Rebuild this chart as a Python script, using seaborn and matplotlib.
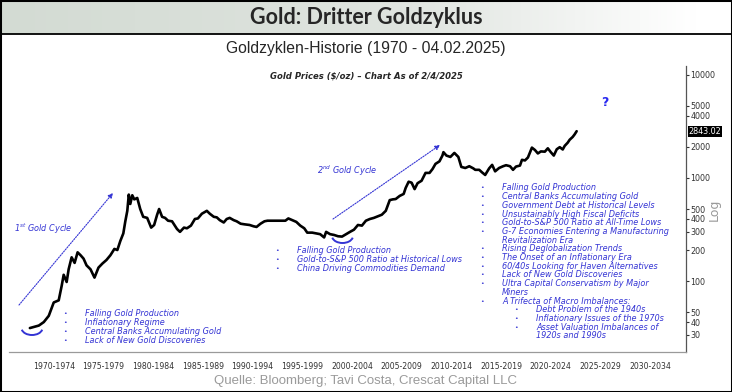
import numpy as np
import matplotlib.pyplot as plt
import matplotlib.patches as mpatches
from matplotlib.colors import LinearSegmentedColormap
from matplotlib.ticker import NullLocator
import matplotlib.transforms as mtransforms
import seaborn as sns

# Gold price in USD/oz (roughly quarterly)
years = [1970.1, 1971.0, 1971.5, 1972.0, 1972.5, 1973.0, 1973.3, 1973.5, 1973.8, 1974.0, 1974.3,
         1974.6, 1974.9, 1975.2, 1975.5, 1975.8, 1976.2, 1976.6, 1977.0, 1977.4, 1977.8,
         1978.2, 1978.6, 1978.9, 1979.2, 1979.5, 1979.7, 1979.9, 1980.05, 1980.2, 1980.4,
         1980.6, 1980.9, 1981.2, 1981.5, 1981.9, 1982.3, 1982.6, 1982.9, 1983.1, 1983.4,
         1983.7, 1984.0, 1984.4, 1984.9, 1985.2, 1985.6, 1985.9, 1986.3, 1986.7, 1987.0,
         1987.4, 1987.9, 1988.2, 1988.6, 1988.9, 1989.2, 1989.6, 1989.9, 1990.2, 1990.6,
         1990.9, 1991.3, 1991.7, 1992.2, 1992.6, 1992.9, 1993.3, 1993.7, 1994.0, 1994.5,
         1994.9, 1995.3, 1995.8, 1996.1, 1996.5, 1996.9, 1997.3, 1997.7, 1998.0, 1998.5,
         1998.9, 1999.3, 1999.7, 1999.9, 2000.3, 2000.7, 2001.1, 2001.5, 2001.9, 2002.3,
         2002.7, 2003.1, 2003.5, 2003.9, 2004.3, 2004.7, 2005.1, 2005.5, 2005.9, 2006.3,
         2006.6, 2006.9, 2007.3, 2007.7, 2007.9, 2008.2, 2008.5, 2008.8, 2009.1, 2009.5,
         2009.9, 2010.3, 2010.6, 2010.9, 2011.3, 2011.6, 2011.7, 2012.0, 2012.4, 2012.8,
         2013.2, 2013.5, 2013.9, 2014.3, 2014.7, 2014.9, 2015.3, 2015.6, 2015.9, 2016.3,
         2016.6, 2016.9, 2017.3, 2017.7, 2018.0, 2018.4, 2018.7, 2019.0, 2019.4, 2019.6,
         2019.9, 2020.2, 2020.6, 2020.9, 2021.2, 2021.5, 2021.9, 2022.2, 2022.5, 2022.8,
         2023.1, 2023.4, 2023.7, 2023.9, 2024.2, 2024.4, 2024.7, 2024.9, 2025.1]
prices = [35, 37, 40, 46, 62, 65, 90, 115, 98, 130, 170,
          150, 190, 178, 165, 142, 130, 108, 135, 148, 160,
          178, 205, 200, 245, 290, 380, 480, 690, 560, 680,
          620, 640, 500, 420, 410, 330, 350, 440, 500, 420,
          410, 385, 380, 320, 300, 330, 325, 345, 400, 405,
          450, 480, 450, 420, 415, 390, 370, 400, 410, 390,
          380, 360, 355, 350, 340, 335, 360, 380, 385, 385,
          385, 385, 385, 405, 390, 375, 345, 325, 295, 295,
          290, 285, 265, 300, 285, 280, 272, 270, 285, 300,
          315, 350, 345, 385, 400, 410, 425, 440, 480, 610,
          620, 625, 670, 700, 800, 920, 900, 780, 890, 940,
          1120, 1120, 1220, 1370, 1450, 1650, 1780, 1650, 1600, 1750,
          1600, 1280, 1250, 1300, 1240, 1200, 1200, 1130, 1070, 1240,
          1340, 1160, 1250, 1300, 1330, 1300, 1200, 1290, 1320, 1500,
          1480, 1580, 1970, 1870, 1730, 1810, 1800, 1940, 1780, 1650,
          1900, 1990, 1890, 2050, 2200, 2350, 2500, 2650, 2843]
last_price = 2843.02

periods = ["1970-1974", "1975-1979", "1980-1984", "1985-1989", "1990-1994",
           "1995-1999", "2000-2004", "2005-2009", "2010-2014", "2015-2019",
           "2020-2024", "2025-2029", "2030-2034"]
period_starts = list(range(1970, 2040, 5))
ytick_vals = [30, 40, 50, 100, 200, 300, 400, 500, 1000, 2000, 4000, 5000, 10000]

cycle1_points = ["Falling Gold Production", "Inflationary Regime",
                 "Central Banks Accumulating Gold", "Lack of New Gold Discoveries"]
cycle2_points = ["Falling Gold Production", "Gold-to-S&P 500 Ratio at Historical Lows",
                 "China Driving Commodities Demand"]
# (indent level, text lines)
cycle3_points = [
    (0, ["Falling Gold Production"]),
    (0, ["Central Banks Accumulating Gold"]),
    (0, ["Government Debt at Historical Levels"]),
    (0, ["Unsustainably High Fiscal Deficits"]),
    (0, ["Gold-to-S&P 500 Ratio at All-Time Lows"]),
    (0, ["G-7 Economies Entering a Manufacturing", "Revitalization Era"]),
    (0, ["Rising Deglobalization Trends"]),
    (0, ["The Onset of an Inflationary Era"]),
    (0, ["60/40s Looking for Haven Alternatives"]),
    (0, ["Lack of New Gold Discoveries"]),
    (0, ["Ultra Capital Conservatism by Major", "Miners"]),
    (0, ["A Trifecta of Macro Imbalances:"]),
    (1, ["Debt Problem of the 1940s"]),
    (1, ["Inflationary Issues of the 1970s"]),
    (1, ["Asset Valuation Imbalances of", "1920s and 1990s"]),
]

sns.set_style("white")
plt.rcParams["font.family"] = ["DejaVu Sans"]

W, H = 732, 392
BLUE = "#3434d4"
NOTE_SIZE = 5.9


def fx(px):
    return px / W


def fy(py):
    return 1 - py / H


fig = plt.figure(figsize=(W / 100, H / 100), dpi=100)

# header band with gradient
hax = fig.add_axes([0, fy(34), 1, 34 / H])
cmap = LinearSegmentedColormap.from_list(
    "band", [(0, "#d3dbd3"), (0.55, "#dfe4df"), (0.95, "#ffffff"), (1, "#ffffff")])
hax.imshow(np.linspace(0, 1, 256)[None, :], aspect="auto", cmap=cmap,
           extent=[0, 1, 0, 1])
hax.set_axis_off()
fig.text(0.5, fy(18), "Gold: Dritter Goldzyklus", ha="center", va="center",
         fontsize=15.5, fontweight="bold", family=["Lato", "DejaVu Sans"])
fig.add_artist(plt.Line2D([0, 1], [fy(34), fy(34)], color="black", lw=1.3,
                          transform=fig.transFigure))
fig.text(0.5, fy(48), "Goldzyklen-Historie (1970 - 04.02.2025)", ha="center",
         va="center", fontsize=11.3, family=["Liberation Sans Narrow", "Liberation Sans"])

# main chart
ax = fig.add_axes([fx(9), fy(352), (686 - 9) / W, (352 - 66) / H])
sns.lineplot(x=years, y=prices, ax=ax, color="black", lw=1.9, sort=False)
ax.set_yscale("log")
ax.set_xlim(1968.0, 2036.1)
ax.set_ylim(20.5, 12200)

ax.yaxis.tick_right()
ax.set_yticks(ytick_vals)
ax.set_yticklabels([str(v) for v in ytick_vals])
ax.yaxis.set_minor_locator(NullLocator())
ax.tick_params(axis="y", which="major", length=2, width=0.8, pad=1,
               labelsize=5.8, colors="#333333", direction="out")

ax.set_xticks(period_starts)
ax.set_xticklabels([""] * len(period_starts))
ax.set_xticks([s + 2.5 for s in period_starts[:-1]], minor=True)
ax.set_xticklabels(periods, minor=True)
ax.tick_params(axis="x", which="major", length=17, width=0.7, color="#cfcfcf")
ax.tick_params(axis="x", which="minor", length=0, pad=7, labelsize=5.6,
               labelcolor="#333333")

for side in ["top", "left"]:
    ax.spines[side].set_visible(False)
ax.spines["right"].set_color("#555555")
ax.spines["bottom"].set_color("#9a9a9a")
ax.spines["right"].set_linewidth(0.9)
ax.spines["bottom"].set_linewidth(0.9)

trans = mtransforms.blended_transform_factory(ax.transAxes, ax.transData)
ax.text(1.004, last_price, f"{last_price:.2f}", transform=trans, ha="left",
        va="center", color="white", fontsize=5.8,
        bbox=dict(fc="black", ec="none", pad=0.6))

fig.text(fx(714), fy(210), "Log", rotation=90, ha="center", va="center",
         fontsize=9, color="#9a9a9a")

fig.text(fx(366), fy(76), "Gold Prices ($/oz) \u2013 Chart As of 2/4/2025",
         ha="center", va="center", fontsize=6.1, fontweight="bold", style="italic")

# cycle annotations
fig.text(fx(14), fy(229), r"1$^{st}$ Gold Cycle", ha="left", va="center",
         fontsize=NOTE_SIZE, style="italic", color=BLUE)
fig.text(fx(317), fy(171), r"2$^{nd}$ Gold Cycle", ha="left", va="center",
         fontsize=NOTE_SIZE, style="italic", color=BLUE)
fig.text(fx(605), fy(103), "?", ha="center", va="center", fontsize=9,
         fontweight="bold", color="#2a2af0")

arrow_kw = dict(arrowstyle="-|>", color=BLUE, lw=0.8, ls=(0, (1.2, 1.2)),
                mutation_scale=7, shrinkA=0, shrinkB=0)
fig.add_artist(mpatches.FancyArrowPatch((fx(19), fy(305)), (fx(113), fy(193)),
                                        transform=fig.transFigure, **arrow_kw))
fig.add_artist(mpatches.FancyArrowPatch((fx(333), fy(219)), (fx(440), fy(145)),
                                        transform=fig.transFigure, **arrow_kw))

for cx, cy in [(32, 328), (342.5, 236)]:
    fig.add_artist(mpatches.Arc((fx(cx), fy(cy)), 21 / W, 14 / H, theta1=197,
                                theta2=343, color=BLUE, lw=1.4,
                                transform=fig.transFigure))


def bullet_list(items, x_bullet, x_text, y0, step=8.7, indent=(34, 34)):
    y = y0
    for level, lines in items:
        xb = x_bullet + level * indent[0]
        xt = x_text + level * indent[1]
        fig.text(fx(xb), fy(y), "\u2022", ha="center", va="center",
                 fontsize=4.5, color=BLUE)
        for line in lines:
            fig.text(fx(xt), fy(y), line, ha="left", va="center", fontsize=NOTE_SIZE,
                     style="italic", color=BLUE)
            y += step


bullet_list([(0, [t]) for t in cycle1_points], 65, 85, 314)
bullet_list([(0, [t]) for t in cycle2_points], 277, 297, 251)
bullet_list(cycle3_points, 482, 502, 188)

fig.text(fx(366), fy(381), "Quelle: Bloomberg; Tavi Costa, Crescat Capital LLC",
         ha="center", va="center", fontsize=9.5, color="#9a9a9a",
         family=["Liberation Sans Narrow", "Liberation Sans"])

# outer frame
fig.add_artist(mpatches.Rectangle((0, 0), 1, 1, fill=False, ec="black", lw=2.2,
                                  transform=fig.transFigure))

fig.savefig("out.png", dpi=100)
